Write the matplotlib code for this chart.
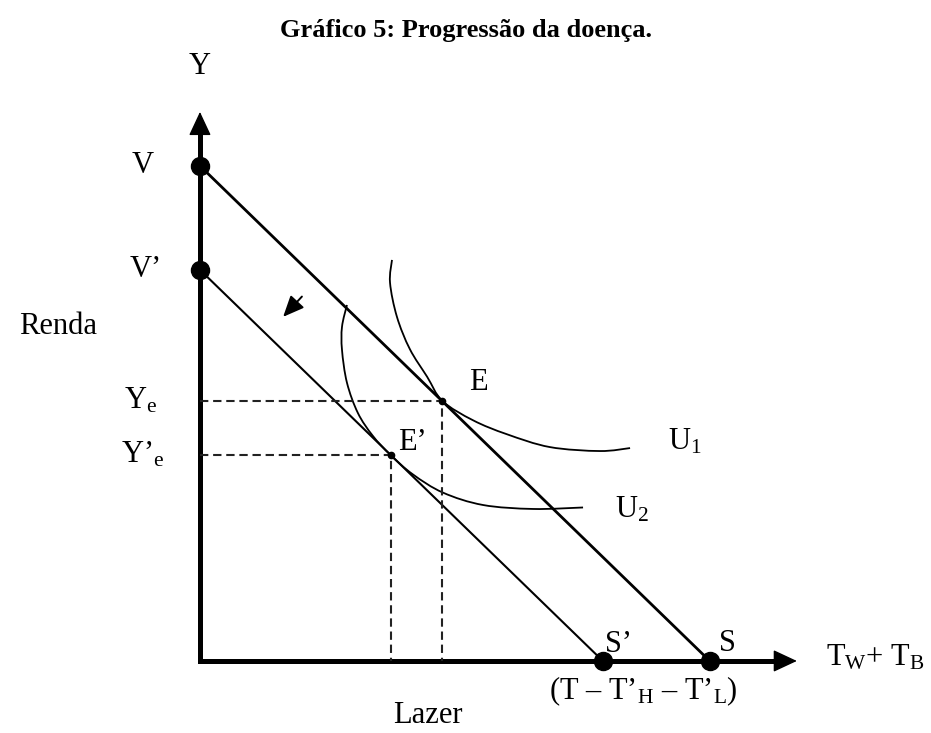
import matplotlib.pyplot as plt
from matplotlib.path import Path
from matplotlib.patches import PathPatch

plt.rcParams['font.family'] = ['Liberation Serif', 'DejaVu Serif']
plt.rcParams['mathtext.fontset'] = 'custom'
plt.rcParams['mathtext.rm'] = 'Liberation Serif'
plt.rcParams['mathtext.it'] = 'Liberation Serif:italic'

# interceptos das retas orçamentárias (renda x lazer)
v_int, s_int = 10.0, 10.3      # V e S
v2_int, s2_int = 7.9, 8.14     # V' e S'

# pontos de equilíbrio
e_x, e_y = 4.9, 5.25
e2_x, e2_y = 3.85, 4.16

# curva de indiferença U1
u1_x = [3.88, 3.84, 3.98, 4.24, 4.59, 4.90, 5.52, 6.20, 7.07, 8.08, 8.69]
u1_y = [8.10, 7.64, 6.95, 6.30, 5.74, 5.25, 4.86, 4.58, 4.32, 4.24, 4.30]

# curva de indiferença U2
u2_x = [2.97, 2.87, 2.87, 2.97, 3.19, 3.49, 3.85, 4.30, 4.91, 5.72, 6.73, 7.74]
u2_y = [7.19, 6.75, 6.28, 5.62, 5.01, 4.55, 4.16, 3.77, 3.40, 3.15, 3.07, 3.10]

# extremidades dos eixos
y_top = 11.09
x_right = 12.06
head = 0.3

fs = 22


def smooth_curve(xs, ys):
    # Catmull-Rom -> Bezier cúbica, passando por todos os pontos
    pts = list(zip(xs, ys))
    ext = [pts[0]] + pts + [pts[-1]]
    verts = [pts[0]]
    codes = [Path.MOVETO]
    for i in range(1, len(ext) - 2):
        p0, p1, p2, p3 = ext[i - 1], ext[i], ext[i + 1], ext[i + 2]
        c1 = (p1[0] + (p2[0] - p0[0]) / 6, p1[1] + (p2[1] - p0[1]) / 6)
        c2 = (p2[0] - (p3[0] - p1[0]) / 6, p2[1] - (p3[1] - p1[1]) / 6)
        verts += [c1, c2, p2]
        codes += [Path.CURVE4] * 3
    return PathPatch(Path(verts, codes), fill=False, color='k', lw=1.3)


fig = plt.figure(figsize=(9.31, 7.33), dpi=100)
ax = fig.add_axes([0, 0, 1, 1])
ax.set_xlim(-4.04, 14.77)
ax.set_ylim(-1.455, 13.35)
ax.axis('off')

# eixos com setas
ax.plot([0, 0], [0, y_top - head], color='k', lw=3.6, solid_capstyle='projecting')
ax.plot([0, x_right - head], [0, 0], color='k', lw=3.6, solid_capstyle='projecting')
arrow_kw = dict(arrowstyle='-|>,head_length=0.75,head_width=0.35', mutation_scale=20,
                color='k', lw=1, shrinkA=0, shrinkB=0)
ax.annotate('', xy=(0, y_top), xytext=(0, y_top - head - 0.05), arrowprops=arrow_kw)
ax.annotate('', xy=(x_right, 0), xytext=(x_right - head - 0.05, 0), arrowprops=arrow_kw)

# retas orçamentárias
ax.plot([0, s_int], [v_int, 0], color='k', lw=2.0)
ax.plot([0, s2_int], [v2_int, 0], color='k', lw=1.5)

# curvas de indiferença
ax.add_patch(smooth_curve(u1_x, u1_y))
ax.add_patch(smooth_curve(u2_x, u2_y))

# linhas tracejadas até os eixos
dash_kw = dict(color='#222222', lw=1.5, dashes=(4, 2.3))
ax.plot([0, e_x, e_x], [e_y, e_y, 0], **dash_kw)
ax.plot([0, e2_x, e2_x], [e2_y, e2_y, 0], **dash_kw)

# pontos
ax.plot([0, 0, s_int, s2_int], [v_int, v2_int, 0, 0], 'o', color='k', ms=13)
ax.plot([e_x, e2_x], [e_y, e2_y], 'o', color='k', ms=4.5)

# seta indicando o deslocamento
ax.annotate('', xy=(1.68, 6.95), xytext=(2.06, 7.36),
            arrowprops=dict(arrowstyle='-|>,head_length=0.8,head_width=0.35',
                            mutation_scale=16, color='k', lw=1.4, shrinkA=0, shrinkB=0))

# rótulos
ax.text(0, 12.0, 'Y', fontsize=fs, ha='center', va='center')
ax.text(-1.15, v_int, 'V', fontsize=fs, ha='center', va='center')
ax.text(-1.1, v2_int, 'V’', fontsize=fs, ha='center', va='center')
ax.text(-2.87, 6.75, 'Renda', fontsize=fs, ha='center', va='center')
ax.text(-1.2, e_y, r'Y$_{\rm e}$', fontsize=fs, ha='center', va='center')
ax.text(-1.15, e2_y, r'Y’$_{\rm e}$', fontsize=fs, ha='center', va='center')
ax.text(5.62, 5.62, 'E', fontsize=fs, ha='center', va='center')
ax.text(4.3, 4.42, 'E’', fontsize=fs, ha='center', va='center')
ax.text(9.8, 4.42, r'U$_{\rm 1}$', fontsize=fs, ha='center', va='center')
ax.text(8.73, 3.05, r'U$_{\rm 2}$', fontsize=fs, ha='center', va='center')
ax.text(8.45, 0.33, 'S’', fontsize=fs, ha='center', va='center')
ax.text(10.65, 0.35, 'S', fontsize=fs, ha='center', va='center')
ax.text(12.65, 0.06, r'T$_{\rm W}$+ T$_{\rm B}$', fontsize=fs, ha='left', va='center')
ax.text(8.95, -0.62, r'(T – T’$_{\rm H}$ – T’$_{\rm L}$)', fontsize=fs, ha='center', va='center')
ax.text(4.6, -1.25, 'Lazer', fontsize=fs, ha='center', va='baseline')

fig.text(0.5, 1 - 30 / 733, 'Gráfico 5: Progressão da doença.', fontsize=19,
         fontweight='bold', ha='center', va='center')

fig.savefig('out.png', dpi=100)
